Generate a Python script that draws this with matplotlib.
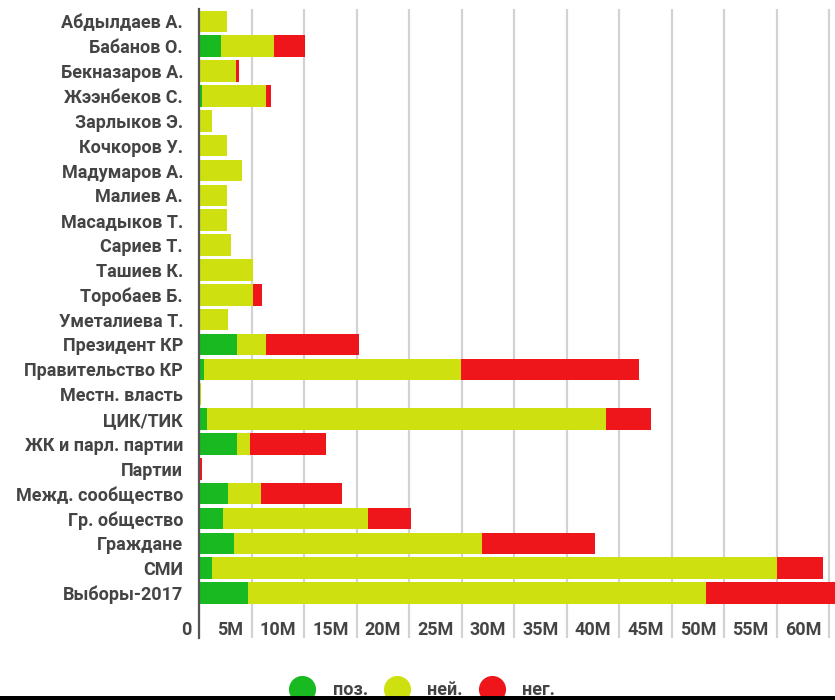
import matplotlib
matplotlib.use("Agg")
import matplotlib.pyplot as plt
import matplotlib.transforms as mtransforms
from matplotlib.lines import Line2D
from matplotlib.patches import Rectangle
from matplotlib.ticker import FuncFormatter

plt.rcParams['font.family'] = ['Roboto', 'DejaVu Sans']

# упоминания по объектам, млн
categories = ["Абдылдаев А.", "Бабанов О.", "Бекназаров А.", "Жээнбеков С.",
              "Зарлыков Э.", "Кочкоров У.", "Мадумаров А.", "Малиев А.",
              "Масадыков Т.", "Сариев Т.", "Ташиев К.", "Торобаев Б.",
              "Уметалиева Т.", "Президент КР", "Правительство КР",
              "Местн. власть", "ЦИК/ТИК", "ЖК и парл. партии", "Партии",
              "Межд. сообщество", "Гр. общество", "Граждане", "СМИ",
              "Выборы-2017"]
pos = [0, 2.12, 0, 0.3, 0, 0, 0, 0, 0, 0, 0, 0, 0, 3.62, 0.48, 0, 0.76,
       3.62, 0, 2.73, 2.26, 3.33, 1.21, 4.67]
neu = [2.64, 5.02, 3.52, 6.07, 1.27, 2.64, 4.12, 2.64, 2.64, 3.05, 5.17,
       5.17, 2.76, 2.76, 24.48, 0.2, 38.0, 1.21, 0, 3.2, 13.87, 23.59,
       53.84, 43.65]
neg = [0, 2.98, 0.31, 0.45, 0, 0, 0, 0, 0, 0, 0, 0.8, 0, 8.86, 16.95, 0,
       4.31, 7.24, 0.25, 7.66, 4.04, 10.76, 4.35, 14.0]
series_names = ["поз.", "ней.", "нег."]
colors = ["#19b922", "#cfe011", "#ee161b"]
xticks = list(range(0, 65, 5))

fig = plt.figure(figsize=(8.35, 7.0), dpi=100)
ax = fig.add_axes([199 / 835, 62 / 700, 1 - 199 / 835, 629 / 700])

y = list(range(len(categories)))
left = [0] * len(categories)
for vals, name, c in zip([pos, neu, neg], series_names, colors):
    ax.barh(y, vals, left=left, height=0.87, color=c, label=name, zorder=2)
    left = [a + b for a, b in zip(left, vals)]

ax.set_xlim(0, 60.57)
ax.set_ylim(24.81, -0.5)
ax.set_yticks(y)
ax.set_yticklabels(categories)
ax.set_xticks(xticks)
ax.xaxis.set_major_formatter(FuncFormatter(lambda v, p: "0" if v == 0 else f"{int(v)}M"))

ax.grid(axis='x', color='#d2d2d2', linewidth=1.6, zorder=0)
ax.grid(axis='y', visible=False)
for s in ['top', 'right', 'bottom']:
    ax.spines[s].set_visible(False)
ax.spines['left'].set_color('#555555')
ax.spines['left'].set_linewidth(1.6)
ax.spines['left'].set_zorder(3)

ax.tick_params(axis='y', length=0, pad=11.5, labelsize=13, labelcolor='#444444')
ax.tick_params(axis='x', length=0, pad=0, labelsize=13, labelcolor='#444444')
for lbl in ax.get_yticklabels():
    lbl.set_fontweight('bold')

# подписи оси X стоят слева от своей линии сетки
shift = mtransforms.ScaledTranslation(-8 / 100, 17 / 100, fig.dpi_scale_trans)
for lbl in ax.get_xticklabels():
    lbl.set_horizontalalignment('right')
    lbl.set_fontweight('bold')
    lbl.set_transform(lbl.get_transform() + shift)

handles = [Line2D([], [], marker='o', linestyle='none', markersize=18.5,
                  markerfacecolor=c, markeredgecolor=c) for c in colors]
leg = fig.legend(handles, series_names, loc='center', bbox_to_anchor=(424 / 835, 10 / 700),
                 ncol=3, frameon=False, handlelength=1.0,
                 handletextpad=1.17, columnspacing=1.11, labelcolor='#444444',
                 prop={'size': 13, 'weight': 'bold'})

# чёрная полоса по нижнему краю
fig.add_artist(Rectangle((0, 0), 1, 4 / 700, transform=fig.transFigure,
                         facecolor='black', edgecolor='none', zorder=10))

fig.savefig("out.png", dpi=100)
